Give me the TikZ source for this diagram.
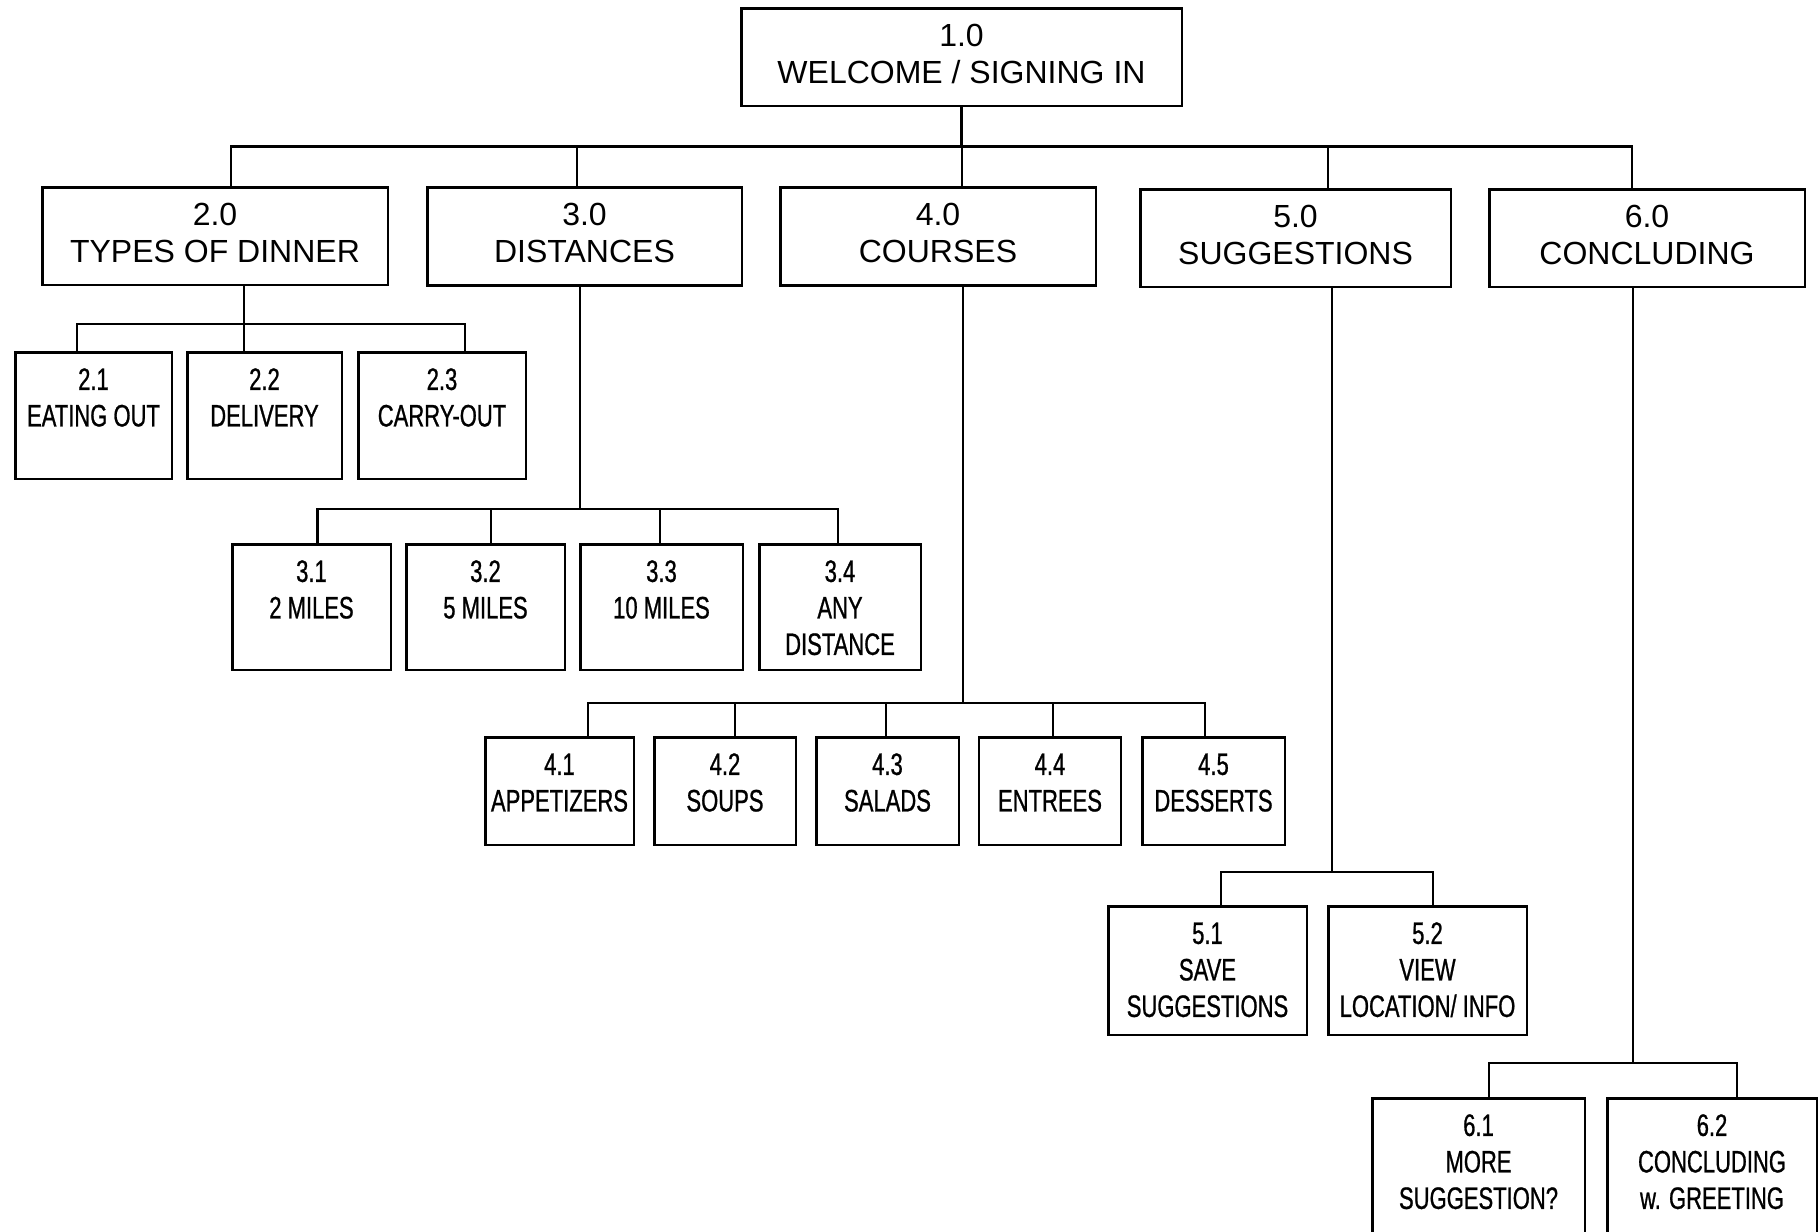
\documentclass[tikz,border=0pt]{standalone}
\usepackage{fontspec}
\newfontfamily\hubfont{Liberation Sans}
\newfontfamily\leaffont[FakeStretch=0.71,FakeBold=0.8]{Liberation Sans}
\newcommand{\leaftext}[1]{\begin{tabular}[t]{@{}c@{}}#1\end{tabular}}

\begin{document}
\begin{tikzpicture}[x=0.5pt,y=-0.5pt,
	hub/.style={draw, line width=1.3pt, align=center, inner sep=0pt, minimum height=48.8pt, text depth=3.5pt, font=\hubfont\fontsize{16}{18.5}\selectfont},
	leaf/.style={draw, line width=1.3pt, anchor=north, inner sep=0pt, text height=18.8pt, font=\leaffont\fontsize{15.5}{18.25}\selectfont},
	wire/.style={line width=1.1pt}]
	\useasboundingbox (0,0) rectangle (1819,1231);
	\clip (0,0) rectangle (1819,1231);

	\node[hub, minimum width=220.3pt] (b10) at (961.5,57) {1.0\\WELCOME / SIGNING IN};
	\node[hub, minimum width=172.8pt] (b20) at (215,236) {2.0\\TYPES OF DINNER};
	\node[hub, minimum width=157.3pt] (b30) at (584.5,236.5) {3.0\\DISTANCES};
	\node[hub, minimum width=157.8pt] (b40) at (938,236.5) {4.0\\COURSES};
	\node[hub, minimum width=155.3pt] (b50) at (1295.5,238) {5.0\\SUGGESTIONS};
	\node[hub, minimum width=157.8pt] (b60) at (1647,238) {6.0\\CONCLUDING};

	\node[leaf, minimum width=78.3pt, text depth=44.5pt] (b21) at (93.5,351) {\leaftext{2.1\\EATING OUT}};
	\node[leaf, minimum width=77.3pt, text depth=44.5pt] (b22) at (264.5,351) {\leaftext{2.2\\DELIVERY}};
	\node[leaf, minimum width=83.8pt, text depth=44.5pt] (b23) at (442,351) {\leaftext{2.3\\CARRY-OUT}};

	\node[leaf, minimum width=79.3pt, text depth=44pt] (b31) at (311.5,543) {\leaftext{3.1\\2 MILES}};
	\node[leaf, minimum width=79.3pt, text depth=44pt] (b32) at (485.5,543) {\leaftext{3.2\\5 MILES}};
	\node[leaf, minimum width=81.3pt, text depth=44pt] (b33) at (661.5,543) {\leaftext{3.3\\10 MILES}};
	\node[leaf, minimum width=80.8pt, text depth=44pt] (b34) at (840,543) {\leaftext{3.4\\ANY\\DISTANCE}};

	\node[leaf, minimum width=74.3pt, text depth=35pt] (b41) at (559.5,736) {\leaftext{4.1\\APPETIZERS}};
	\node[leaf, minimum width=70.8pt, text depth=35pt] (b42) at (725,736) {\leaftext{4.2\\SOUPS}};
	\node[leaf, minimum width=71.3pt, text depth=35pt] (b43) at (887.5,736) {\leaftext{4.3\\SALADS}};
	\node[leaf, minimum width=71pt, text depth=35pt] (b44) at (1050,736) {\leaftext{4.4\\ENTREES}};
	\node[leaf, minimum width=71.3pt, text depth=35pt] (b45) at (1213.5,736) {\leaftext{4.5\\DESSERTS}};

	\node[leaf, minimum width=99.3pt, text depth=45.5pt] (b51) at (1207.5,905) {\leaftext{5.1\\SAVE\\SUGGESTIONS}};
	\node[leaf, minimum width=99.3pt, text depth=45.5pt] (b52) at (1427.5,905) {\leaftext{5.2\\VIEW\\LOCATION/ INFO}};

	\node[leaf, minimum width=106.3pt, text depth=56pt] (b61) at (1478.5,1097) {\leaftext{6.1\\MORE\\SUGGESTION?}};
	\node[leaf, minimum width=104.8pt, text depth=56pt] (b62) at (1712,1097) {\leaftext{6.2\\CONCLUDING\\w. GREETING}};

	\coordinate (bus1) at (0,146.5);
	\coordinate (bus2) at (0,324);
	\coordinate (bus3) at (0,509);
	\coordinate (bus4) at (0,703);
	\coordinate (bus5) at (0,872);
	\coordinate (bus6) at (0,1063);

	\draw[wire] (b10.south) -- (b10.south |- bus1);
	\draw[wire] ([xshift=8pt]b20.north) |- ([xshift=-7.5pt]b60.north |- bus1) -- ([xshift=-7.5pt]b60.north);
	\draw[wire] ([xshift=-3.75pt]b30.north) -- ([xshift=-3.75pt]b30.north |- bus1);
	\draw[wire] ([xshift=12pt]b40.north) -- ([xshift=12pt]b40.north |- bus1);
	\draw[wire] ([xshift=16.25pt]b50.north) -- ([xshift=16.25pt]b50.north |- bus1);

	\draw[wire] ([xshift=14.5pt]b20.south) -- ([xshift=-10.25pt]b22.north);
	\draw[wire] ([xshift=-8.25pt]b21.north) |- ([xshift=11.5pt]b23.north |- bus2) -- ([xshift=11.5pt]b23.north);

	\draw[wire] ([xshift=-2.25pt]b30.south) -- ([xshift=-2.25pt]b30.south |- bus3);
	\draw[wire] ([xshift=3pt]b31.north) |- ([xshift=-1pt]b34.north |- bus3) -- ([xshift=-1pt]b34.north);
	\draw[wire] ([xshift=2.75pt]b32.north) -- ([xshift=2.75pt]b32.north |- bus3);
	\draw[wire] ([xshift=-0.75pt]b33.north) -- ([xshift=-0.75pt]b33.north |- bus3);

	\draw[wire] ([xshift=12.5pt]b40.south) -- ([xshift=12.5pt]b40.south |- bus4);
	\draw[wire] ([xshift=14.25pt]b41.north) |- ([xshift=-4.25pt]b45.north |- bus4) -- ([xshift=-4.25pt]b45.north);
	\draw[wire] ([xshift=5pt]b42.north) -- ([xshift=5pt]b42.north |- bus4);
	\draw[wire] ([xshift=-0.75pt]b43.north) -- ([xshift=-0.75pt]b43.north |- bus4);
	\draw[wire] ([xshift=1.5pt]b44.north) -- ([xshift=1.5pt]b44.north |- bus4);

	\draw[wire] ([xshift=18.25pt]b50.south) -- ([xshift=18.25pt]b50.south |- bus5);
	\draw[wire] ([xshift=6.75pt]b51.north) |- ([xshift=2.75pt]b52.north |- bus5) -- ([xshift=2.75pt]b52.north);

	\draw[wire] ([xshift=-7pt]b60.south) -- ([xshift=-7pt]b60.south |- bus6);
	\draw[wire] ([xshift=5.25pt]b61.north) |- ([xshift=12.5pt]b62.north |- bus6) -- ([xshift=12.5pt]b62.north);
\end{tikzpicture}
\end{document}
